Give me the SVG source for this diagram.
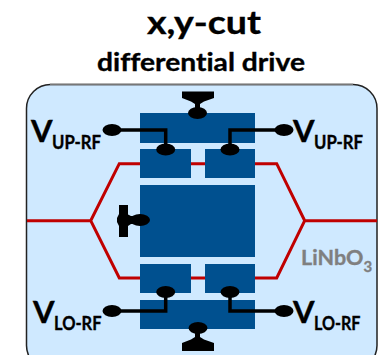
<svg xmlns="http://www.w3.org/2000/svg" width="388" height="355" viewBox="0 0 388 355">
<style>
.e{fill:#00508f}
.r{fill:none;stroke:#c00000;stroke-width:3;stroke-linejoin:miter}
.w{fill:none;stroke:#000;stroke-width:3.500}
.t{font-family:Lato,"Open Sans","Liberation Sans",sans-serif;font-weight:700;fill:#000;stroke:#000;stroke-width:.35px;font-variant-ligatures:none}
.g{fill:#7f7f7f;stroke:#7f7f7f}
.v{font-size:31px}.s{font-size:18.500px}
</style>
<rect id="substrate" x="26.500" y="84.500" width="350.500" height="285" rx="24" fill="#cfe9ff" stroke="#222" stroke-width="1.500"/>
<path id="top-edge" d="M50 84.500H353" fill="none" stroke="#777" stroke-width="1.500"/>
<g id="title" text-anchor="middle">
<text class="t" x="204" y="33.500" font-size="33" textLength="114" lengthAdjust="spacingAndGlyphs">x,y-cut</text>
<text class="t" x="201" y="71" font-size="25" textLength="208" lengthAdjust="spacingAndGlyphs">differential drive</text>
</g>
<g id="waveguide"><path class="r" d="M27 220.700H90.700L119.300 163.700H276.700L304.700 220.700H377M90.700 220.700L119.300 278H276.700L304.700 220.700"/></g>
<g id="electrodes">
<rect class="e" x="140" y="113" width="115" height="30"/>
<rect class="e" x="140" y="149" width="51" height="29"/>
<rect class="e" x="205" y="149" width="50" height="29"/>
<rect class="e" x="140" y="185" width="115" height="72"/>
<rect class="e" x="140" y="264" width="51" height="29"/>
<rect class="e" x="205" y="264" width="50" height="29"/>
<rect class="e" x="140" y="300" width="115" height="29"/>
</g>
<g id="connectors">
<path class="w" d="M112 130H165.700V149"/><ellipse cx="112" cy="130" rx="9.500" ry="6"/><ellipse cx="165.700" cy="149.500" rx="9.500" ry="6"/>
<path class="w" d="M284 130H230V149"/><ellipse cx="284" cy="130" rx="9.500" ry="6"/><ellipse cx="230" cy="149.500" rx="9.500" ry="6"/>
<path class="w" d="M112 311H165.700V292"/><ellipse cx="112" cy="311" rx="9.500" ry="6"/><ellipse cx="165.700" cy="292" rx="9.500" ry="6"/>
<path class="w" d="M284 311H230V292"/><ellipse cx="284" cy="311" rx="9.500" ry="6"/><ellipse cx="230" cy="292" rx="9.500" ry="6"/>
</g>
<g id="grounds">
<path d="M182 91.500H214V98L204 101.500L200 104V110H195V104L191 101.500L182 98Z"/><ellipse cx="197.500" cy="113" rx="9.500" ry="6"/>
<path d="M119 205H128V214.500L131 216H134V224H131L128 226V237H119V226L117 222V218L119 214Z"/><ellipse cx="140" cy="220" rx="10" ry="6"/>
<path d="M182 351H214V343L204 339.500L200 337V331H195V337L191 339.500L182 343Z"/><ellipse cx="198" cy="328" rx="9.500" ry="6"/>
</g>
<g id="labels">
<text class="t v" x="31" y="141.500">V</text><text class="t s" x="52" y="149" textLength="49" lengthAdjust="spacingAndGlyphs">UP-RF</text>
<text class="t v" x="293" y="141.500">V</text><text class="t s" x="314" y="149" textLength="49" lengthAdjust="spacingAndGlyphs">UP-RF</text>
<text class="t v" x="33" y="322.500">V</text><text class="t s" x="54" y="330" textLength="47.500" lengthAdjust="spacingAndGlyphs">LO-RF</text>
<text class="t v" x="293" y="322.500">V</text><text class="t s" x="314" y="330" textLength="46.500" lengthAdjust="spacingAndGlyphs">LO-RF</text>
<text class="t g" x="301" y="265" font-size="21.500">LiNbO<tspan font-size="15" dy="6.500">3</tspan></text>
</g>
</svg>
